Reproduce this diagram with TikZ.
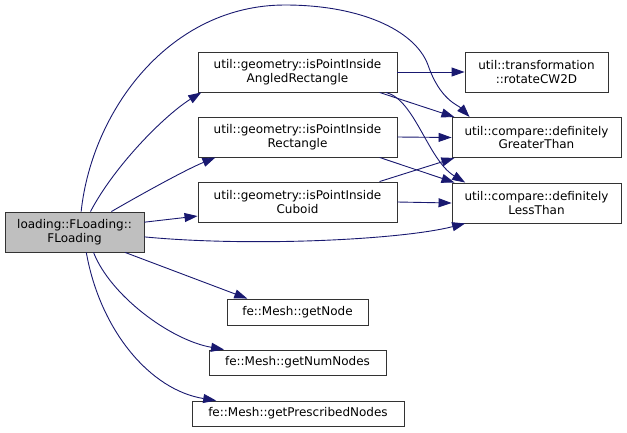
\documentclass[tikz,border=0pt]{standalone}
\usepackage{fontspec}
\setmainfont{DejaVu Sans}
\usetikzlibrary{arrows.meta}

\definecolor{callblue}{HTML}{191970}
\definecolor{selgray}{HTML}{BFBFBF}

\begin{document}
\begin{tikzpicture}[x=1pt, y=-1pt,
    fn/.style={draw=black!80, line width=0.9pt, fill=white, inner sep=0pt, align=center, font=\fontsize{12}{13.5}\selectfont},
    call/.style={draw=callblue, line width=0.9pt, -{Triangle[length=13pt,width=9pt]}, fill=none}]
            \useasboundingbox (0,0) rectangle (627,432);
            % boxes
            \node [fn, fill=selgray, minimum width=139pt, minimum height=40pt] (load) at (74.5,232) {loading::FLoading::\\FLoading};
            \node [fn, minimum width=199pt, minimum height=40pt] (angled) at (297.5,72) {util::geometry::isPointInside\\AngledRectangle};
            \node [fn, minimum width=199pt, minimum height=40pt] (rect) at (297.5,137) {util::geometry::isPointInside\\Rectangle};
            \node [fn, minimum width=199pt, minimum height=40pt] (cuboid) at (297.5,202) {util::geometry::isPointInside\\Cuboid};
            \node [fn, minimum width=143pt, minimum height=40pt] (rotate) at (536.5,72) {util::transformation\\::rotateCW2D};
            \node [fn, minimum width=169pt, minimum height=40pt] (greater) at (536.5,137.5) {util::compare::definitely\\GreaterThan};
            \node [fn, minimum width=169pt, minimum height=40pt] (less) at (536.5,203) {util::compare::definitely\\LessThan};
            \node [fn, minimum width=141pt, minimum height=26pt] (getnode) at (297.5,312) {fe::Mesh::getNode};
            \node [fn, minimum width=177pt, minimum height=25pt] (numnodes) at (297.5,362.5) {fe::Mesh::getNumNodes};
            \node [fn, minimum width=212pt, minimum height=25pt] (prescribed) at (298,413.5) {fe::Mesh::getPrescribedNodes};
            % calls from FLoading
            \draw [call] (load.52) .. controls (115,165) and (165,115) .. (angled.192);
            \draw [call] (load.29.4) .. controls (140,195) and (185,170) .. (rect.194.8);
            \draw [call] (load.8.2) -- (cuboid.188);
            \draw [call] (load.-4.9) .. controls (250,247) and (400,240) .. (less.196);
            \draw [call] (load.72) .. controls (92,110) and (170,5) .. (285,5) .. controls (360,5) and (415,30) .. (428,65) .. controls (440,100) and (458,105) .. (greater.163.7);
            \draw [call] (load.-22.8) -- (getnode.165.3);
            \draw [call] (load.-47.2) .. controls (110,295) and (170,340) .. (numnodes.170.8);
            \draw [call] (load.-60) .. controls (100,330) and (150,390) .. (prescribed.171.6);
            % calls from the geometry helpers
            \draw [call] (angled.east) -- (rotate.west);
            \draw [call] (angled.-14.8) -- (greater.166.9);
            \draw [call] (angled.-13.6) .. controls (415,100) and (428,160) .. (less.164);
            \draw [call] (rect.east) -- (greater.west);
            \draw [call] (rect.-14.8) -- (less.166.2);
            \draw [call] (cuboid.14.8) -- (greater.194.3);
            \draw [call] (cuboid.east) -- (less.west);
        \end{tikzpicture}
\end{document}
